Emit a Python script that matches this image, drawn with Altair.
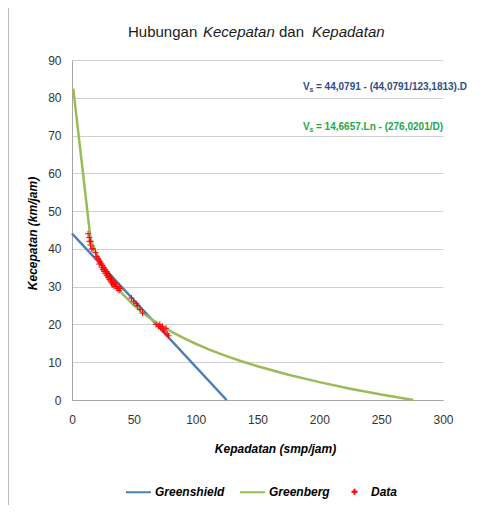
import altair as alt
import pandas as pd

series_names = ["Greenshield", "Greenberg", "Data"]
series_colors = ["#4A7EBB", "#9BBB59", "#FF0000"]

# Greenshield model line
gs_density = [0, 125]
gs_speed = [44.08, 0]

# Greenberg model line
gb_density = [1, 15, 20, 30, 40, 50, 60, 70, 80, 90, 100, 112, 125, 137, 150, 175, 200, 225, 250, 276]
gb_speed = [82.43, 42.71, 38.49, 32.55, 28.33, 25.06, 22.38, 20.12, 18.16, 16.44, 14.89, 13.22,
            11.62, 10.27, 8.94, 6.68, 4.73, 3.00, 1.45, 0]

# Observed data
data_density = [13, 14, 14, 15, 15, 16, 17,
                19, 20, 21, 22, 22, 23, 24, 24, 25, 25, 26, 26, 27, 27, 28, 28, 29, 29,
                30, 30, 31, 31, 32, 32, 33, 33, 34, 34, 35, 35, 36, 37, 38, 38, 39,
                48, 50, 52, 53, 55, 57,
                68, 70, 71, 72, 73, 74, 75, 76, 77, 78]
data_speed = [44, 43, 42, 42, 41, 40, 40,
              39, 38, 37.5, 37, 36, 36.5, 36, 35, 35.5, 34.5, 35, 34, 34.5, 33.5, 34, 33, 33.5, 32.5,
              33, 32, 32.5, 31.5, 32, 31, 31.5, 30.5, 31, 30, 30.5, 31, 30, 29.5, 30, 29, 29.5,
              27, 26, 25.5, 25, 24, 23,
              20, 19.5, 20, 19, 19.5, 18.5, 18, 19, 17.5, 17]

x_ticks = [0, 50, 100, 150, 200, 250, 300]
y_ticks = [0, 10, 20, 30, 40, 50, 60, 70, 80, 90]

title_parts = ["Hubungan", "Kecepatan", "dan", "Kepadatan"]
title_styles = ["normal", "italic", "normal", "italic"]
title_x = [56, 131, 207, 240]

eq_blue = "= 44,0791 - (44,0791/123,1813).D"
eq_green = "= 14,6657.Ln - (276,0201/D)"

FONT = "Liberation Sans"

gs_df = pd.DataFrame({"D": gs_density, "V": gs_speed, "series": "Greenshield"})
gb_df = pd.DataFrame({"D": gb_density, "V": gb_speed, "series": "Greenberg"})
dt_df = pd.DataFrame({"D": data_density, "V": data_speed, "series": "Data"})

color_scale = alt.Scale(domain=series_names, range=series_colors)
shape_scale = alt.Scale(domain=series_names,
                        range=["M-1,0H1", "M-1,0H1", "M-0.24,0H0.24M0,-0.24V0.24"])

legend = alt.Legend(title=None, orient="none", legendX=53, legendY=418,
                    direction="horizontal", symbolSize=625, symbolStrokeWidth=2,
                    labelFont=FONT, labelFontSize=12, labelFontWeight="bold",
                    labelFontStyle="italic", labelColor="#000000", labelOffset=3,
                    columnPadding=11, padding=0)

x_enc = alt.X("D:Q", scale=alt.Scale(domain=[0, 300], nice=False),
              axis=alt.Axis(values=x_ticks, grid=False, ticks=False, title="Kepadatan (smp/jam)",
                            labelPadding=14, labelFontSize=12, labelFont=FONT, labelFlush=False,
                            labelColor="#333333", domainColor="#A6A6A6",
                            titleFont=FONT, titleFontSize=12, titleFontWeight="bold",
                            titleFontStyle="italic", titleColor="#000000",
                            titleX=203, titleY=48, titleBaseline="middle"))
y_enc = alt.Y("V:Q", scale=alt.Scale(domain=[0, 90], nice=False),
              axis=alt.Axis(values=y_ticks, grid=True, ticks=False, title="Kecepatan (km/jam)",
                            labelPadding=11, labelFontSize=12, labelFont=FONT, labelFlush=False,
                            labelColor="#333333", domainColor="#A6A6A6",
                            gridColor="#D0D0D0",
                            titleFont=FONT, titleFontSize=12, titleFontWeight="bold",
                            titleFontStyle="italic", titleColor="#000000",
                            titleX=-40, titleY=173, titleBaseline="middle"))

color_enc = alt.Color("series:N", scale=color_scale, legend=legend)
shape_enc = alt.Shape("series:N", scale=shape_scale, legend=legend)

gs_line = alt.Chart(gs_df).mark_line(strokeWidth=2.5).encode(x=x_enc, y=y_enc, color=color_enc)
gb_line = alt.Chart(gb_df).mark_line(strokeWidth=2.5).encode(x=x_enc, y=y_enc, color=color_enc)
pts = alt.Chart(dt_df).mark_point(filled=False, strokeWidth=1, size=625, opacity=1).encode(
    x=x_enc, y=y_enc, color=color_enc, shape=shape_enc)

layers = [gs_line, gb_line, pts]

tdf = pd.DataFrame({"a": [0]})

# chart-area frame (left and right edges)
for fx in [-64, 415]:
    layers.append(alt.Chart(tdf).mark_rule(color="#A6A6A6", strokeWidth=1.5).encode(
        x=alt.value(fx), y=alt.value(-60), y2=alt.value(460)))

for txt, sty, tx in zip(title_parts, title_styles, title_x):
    layers.append(alt.Chart(tdf).mark_text(text=txt, font=FONT, fontSize=15, fontStyle=sty,
                                           align="left", baseline="alphabetic",
                                           color="#1A1A1A").encode(
        x=alt.value(tx), y=alt.value(-23)))


def eq_layers(rest, color, yb):
    out = []
    out.append(alt.Chart(tdf).mark_text(text="V", font=FONT, fontSize=10, fontWeight="bold",
                                        align="left", baseline="alphabetic", color=color).encode(
        x=alt.value(231), y=alt.value(yb)))
    out.append(alt.Chart(tdf).mark_text(text="s", font=FONT, fontSize=7, fontWeight="bold",
                                        align="left", baseline="alphabetic", color=color).encode(
        x=alt.value(237.5), y=alt.value(yb + 2)))
    out.append(alt.Chart(tdf).mark_text(text=rest, font=FONT, fontSize=10, fontWeight="bold",
                                        align="left", baseline="alphabetic", color=color).encode(
        x=alt.value(244), y=alt.value(yb)))
    return out


layers += eq_layers(eq_blue, "#2E4E86", 30)
layers += eq_layers(eq_green, "#22A84A", 70)

chart = alt.layer(*layers).properties(
    width=371, height=340,
    autosize=alt.AutoSizeParams(type="none"),
    padding={"left": 64, "top": 52, "right": 43, "bottom": 105},
    background="white",
).configure_view(stroke=None)

chart.save("out.html", embed_options={"renderer": "svg", "actions": False})
